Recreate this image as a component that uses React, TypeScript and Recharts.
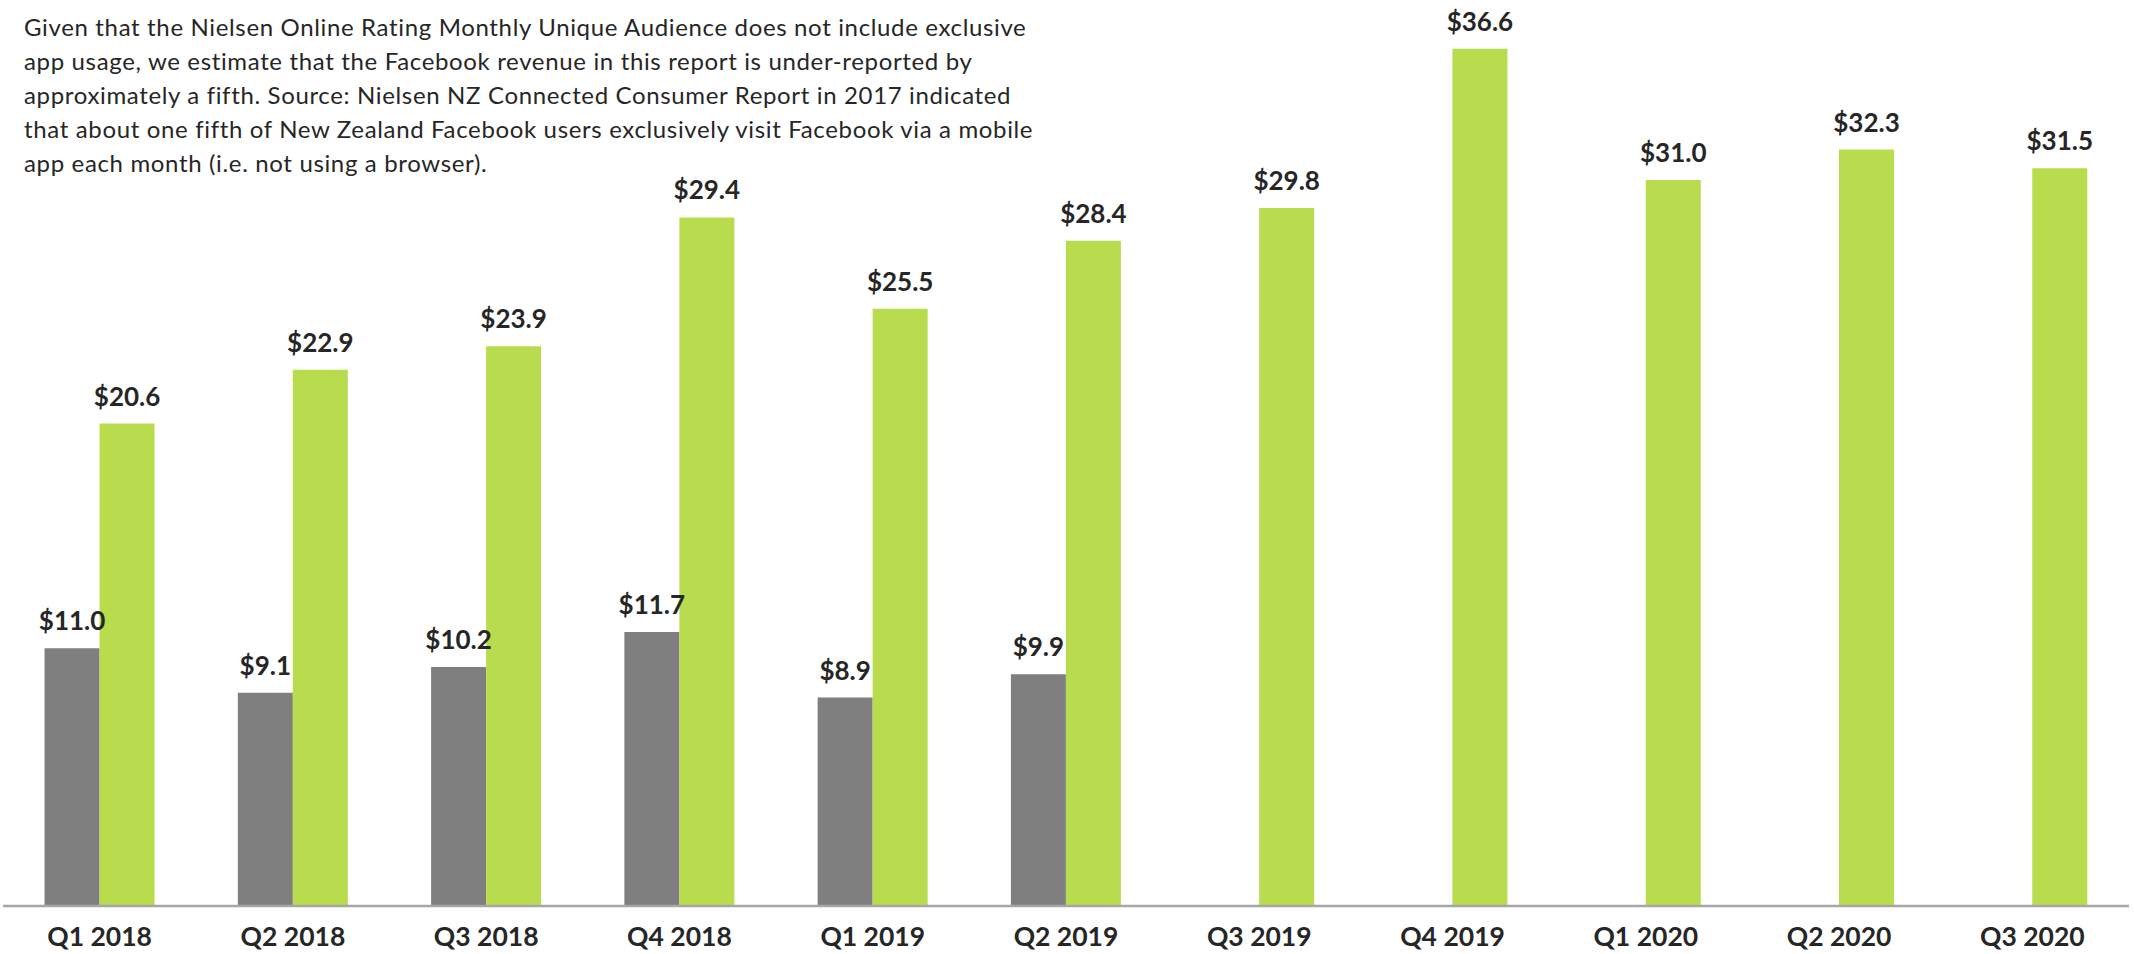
import { BarChart, Bar, XAxis, YAxis, LabelList } from "recharts";

const quarters = [
  "Q1 2018",
  "Q2 2018",
  "Q3 2018",
  "Q4 2018",
  "Q1 2019",
  "Q2 2019",
  "Q3 2019",
  "Q4 2019",
  "Q1 2020",
  "Q2 2020",
  "Q3 2020",
];

// grey bars stop after Q2 2019
const nielsenRevenue: (number | null)[] = [11.0, 9.1, 10.2, 11.7, 8.9, 9.9, null, null, null, null, null];
const facebookRevenue = [20.6, 22.9, 23.9, 29.4, 25.5, 28.4, 29.8, 36.6, 31.0, 32.3, 31.5];

const noteLines = [
  "Given that the Nielsen Online Rating Monthly Unique Audience does not include exclusive",
  "app usage, we estimate that the Facebook revenue in this report is under-reported by",
  "approximately a fifth. Source: Nielsen NZ Connected Consumer Report in 2017 indicated",
  "that about one fifth of New Zealand Facebook users exclusively visit Facebook via a mobile",
  "app each month (i.e. not using a browser).",
];

const data = quarters.map((quarter, i) => ({
  quarter,
  nielsen: nielsenRevenue[i],
  facebook: facebookRevenue[i],
}));

const FONT = "Lato, 'Open Sans', sans-serif";
const TEXT = "#262626";

const money = (v: unknown) => (v == null ? "" : `$${Number(v).toFixed(1)}`);

const labelStyle = { fill: TEXT, fontSize: 26, fontWeight: 700, fontFamily: FONT };

export default function App() {
  return (
    <div
      style={{
        position: "absolute",
        top: 0,
        left: 0,
        width: 2134,
        height: 954,
        background: "#fff",
        fontFamily: FONT,
      }}
    >
      <BarChart
        width={2134}
        height={954}
        data={data}
        margin={{ top: 16, right: 5, left: 3, bottom: 0 }}
        barCategoryGap="21.5%"
        barGap={0}
      >
        <YAxis hide domain={[0, 38]} />
        <XAxis
          dataKey="quarter"
          height={48}
          axisLine={{ stroke: "#a6a6a6", strokeWidth: 2.5 }}
          tickLine={false}
          tickSize={0}
          tickMargin={21}
          interval={0}
          tick={{ fill: TEXT, fontSize: 26.5, fontWeight: 700, fontFamily: FONT }}
        />
        <Bar dataKey="nielsen" fill="#7f7f7f" isAnimationActive={false}>
          <LabelList dataKey="nielsen" position="top" offset={18} formatter={money} style={labelStyle} />
        </Bar>
        <Bar dataKey="facebook" fill="#b9dc4e" isAnimationActive={false}>
          <LabelList dataKey="facebook" position="top" offset={18} formatter={money} style={labelStyle} />
        </Bar>
      </BarChart>
      <div
        style={{
          position: "absolute",
          left: 24,
          top: 10,
          fontSize: 24,
          letterSpacing: 0.65,
          lineHeight: "34px",
          color: TEXT,
          whiteSpace: "nowrap",
        }}
      >
        {noteLines.map((line) => (
          <div key={line}>{line}</div>
        ))}
      </div>
    </div>
  );
}
